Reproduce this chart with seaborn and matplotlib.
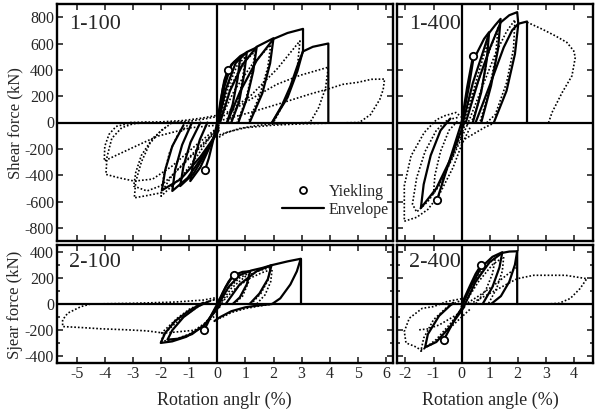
import pandas as pd
import seaborn as sns
import matplotlib
matplotlib.use("Agg")
from matplotlib import pyplot as plt
from matplotlib.lines import Line2D

# ---------------- data (rotation %, shear kN) ----------------
# specimen 1-100
a_solid = [
    [(0, 0), (0.12, 170), (0.25, 320), (0.38, 400)],
    [(0.02, 0), (0.2, 260), (0.38, 400), (0.6, 460), (0.82, 494), (0.72, 330), (0.55, 140), (0.35, 0)],
    [(0.03, 0), (0.25, 270), (0.5, 440), (0.82, 505), (1.05, 532), (0.95, 360), (0.78, 160), (0.5, 0)],
    [(0.05, 0), (0.3, 250), (0.65, 450), (1.05, 535), (1.4, 570), (1.28, 390), (1.05, 180), (0.75, 0)],
    [(0.1, 0), (0.45, 240), (0.9, 440), (1.4, 575), (2.0, 640), (1.88, 450), (1.6, 220), (1.15, 0)],
    [(0.35, 0), (0.8, 230), (1.4, 470), (2.0, 635), (2.5, 680), (3.05, 711), (3.05, 545), (2.85, 390), (2.5, 190), (1.95, 0)],
    [(1.95, 0), (2.3, 130), (2.6, 275), (2.85, 430), (3.05, 540), (3.4, 575), (3.95, 600), (3.95, 0)],
    [(0, 0), (-0.15, -140), (-0.3, -270), (-0.43, -358)],
    [(0.05, -20), (-0.3, -200), (-0.6, -340), (-0.96, -445), (-0.85, -300), (-0.62, -130), (-0.35, 0)],
    [(0.05, -40), (-0.4, -230), (-0.85, -390), (-1.32, -483), (-1.2, -330), (-0.95, -150), (-0.6, 0)],
    [(0.05, -60), (-0.5, -250), (-1.05, -420), (-1.6, -520), (-1.5, -360), (-1.25, -170), (-0.9, 0)],
    [(0.0, -80), (-0.6, -260), (-1.3, -430), (-1.97, -515), (-1.85, -360), (-1.6, -180), (-1.2, -20)],
]
a_dotted = [
    [(0.05, 0), (0.35, 250), (0.7, 430), (1.0, 500), (0.9, 330), (0.72, 140), (0.45, 0)],
    [(0.08, 0), (0.45, 260), (0.9, 450), (1.35, 540), (1.22, 360), (1.0, 160), (0.7, 0)],
    [(0.1, 20), (0.6, 240), (1.2, 430), (1.9, 590), (1.8, 420), (1.5, 200), (1.1, 0)],
    [(0.34, 76), (1.17, 200), (2.12, 405), (2.94, 620), (2.85, 420), (2.5, 200), (2.0, 0)],
    [(0.22, 50), (1.17, 175), (2.12, 290), (2.94, 358), (3.95, 420), (3.85, 260), (3.6, 110), (3.3, 0)],
    [(0.2, 20), (1.17, 76), (2.35, 152), (3.3, 216), (3.95, 255), (4.47, 290), (5.0, 305), (5.48, 328),
     (5.95, 330), (5.9, 250), (5.78, 175), (5.45, 60), (5.05, 0)],
    [(3.3, 0), (2.5, -5), (1.5, -20), (0.8, -45), (0.3, -80), (0.0, -120)],
    [(5.05, 0), (4.0, -5), (3.0, -10), (2.0, -20), (1.0, -40), (0.4, -70), (0.0, -100)],
    [(0.0, -50), (-0.8, -220), (-1.6, -400), (-2.0, -534), (-2.5, -555), (-2.95, -572), (-2.9, -450),
     (-2.7, -300), (-2.4, -160), (-2.0, -60), (-1.65, -10)],
    [(0.0, -40), (-0.8, -180), (-1.6, -330), (-2.3, -430), (-2.95, -445), (-3.5, -420), (-3.96, -394),
     (-3.92, -260), (-3.75, -120), (-3.4, -40), (-3.0, -10), (-2.5, 0)],
    [(0.0, -20), (-0.95, -40), (-2.13, -104), (-3.0, -190), (-4.02, -292), (-4.0, -180), (-3.85, -90),
     (-3.6, -30), (-3.1, -5), (-2.5, 0)],
    [(0.0, -60), (-0.8, -230), (-1.5, -380), (-2.0, -480), (-2.5, -520), (-2.97, -483), (-2.9, -380),
     (-2.7, -250), (-2.3, -120), (-1.8, -30)],
    [(-0.1, -60), (-0.7, -250), (-1.3, -420), (-2.0, -560), (-1.9, -400), (-1.7, -230), (-1.4, -90), (-1.0, -10)],
    [(-3.1, 0), (-2.0, 5), (-1.2, 15), (-0.5, 35), (0.0, 55)],
    [(-1.7, 0), (-1.0, 10), (-0.5, 25), (0.0, 45)],
]
a_yield = [(0.38, 400), (-0.43, -358)]

# specimen 1-400
b_solid = [
    [(0, 0), (0.2, 270), (0.41, 508)],
    [(0.0, -10), (0.25, 260), (0.41, 470), (0.8, 635), (0.98, 686), (0.9, 480), (0.7, 230), (0.4, 0)],
    [(0.05, 0), (0.4, 300), (0.8, 560), (0.98, 680), (1.2, 740), (1.39, 787), (1.3, 560), (1.05, 280), (0.7, 0)],
    [(0.15, 0), (0.6, 320), (1.0, 560), (1.39, 760), (1.7, 815), (1.98, 838), (2.02, 750), (1.9, 520),
     (1.6, 240), (1.15, 0)],
    [(0.5, 0), (1.0, 280), (1.5, 570), (1.8, 700), (2.02, 750), (2.33, 767), (2.33, 0)],
    [(0, 0), (-0.4, -270), (-0.87, -585)],
    [(0.1, 0), (-0.4, -280), (-0.9, -500), (-1.45, -650), (-1.35, -470), (-1.1, -250), (-0.75, -60), (-0.4, 30)],
]
b_dotted = [
    [(0.05, 0), (0.4, 230), (0.75, 480), (0.95, 620), (0.85, 400), (0.6, 150), (0.35, 0)],
    [(0.1, 0), (0.5, 260), (0.95, 520), (1.3, 720), (1.2, 480), (0.95, 220), (0.65, 0)],
    [(0.2, -20), (0.7, 250), (1.2, 520), (1.6, 690), (1.9, 780), (1.85, 560), (1.6, 300), (1.2, 60), (0.9, 0)],
    [(2.33, 762), (2.87, 709), (3.34, 658), (3.75, 608), (3.99, 545), (4.05, 495), (3.93, 354), (3.58, 227),
     (3.22, 76), (3.1, 0)],
    [(1.2, 0), (0.8, -40), (0.4, -90), (0.0, -140)],
    [(0.3, -40), (0.0, -170), (-0.3, -340), (-0.8, -550), (-1.2, -660), (-1.6, -720), (-2.04, -750),
     (-2.04, -480), (-1.8, -254), (-1.33, -76), (-0.9, 20), (-0.62, 50), (-0.2, 76), (0.0, 40)],
    [(0.2, -20), (-0.3, -260), (-0.8, -480), (-1.2, -600), (-1.6, -680), (-1.75, -620), (-1.6, -420),
     (-1.3, -220), (-0.9, -60), (-0.5, 20), (-0.1, 40)],
    [(0.1, -30), (-0.3, -250), (-0.7, -430), (-1.0, -540), (-0.95, -400), (-0.75, -220), (-0.45, -60), (-0.1, 20)],
]
b_yield = [(0.41, 508), (-0.87, -585)]

# specimen 2-100
c_solid = [
    [(0, 0), (0.2, 90), (0.4, 170), (0.58, 223)],
    [(0.02, 0), (0.3, 130), (0.58, 220), (0.9, 245), (1.17, 250), (1.05, 150), (0.8, 50), (0.55, 0)],
    [(0.05, 0), (0.4, 130), (0.8, 220), (1.2, 255), (1.6, 275), (1.93, 296), (1.8, 190), (1.5, 80), (1.15, 0)],
    [(0.3, 0), (0.8, 150), (1.4, 250), (1.93, 296), (2.5, 325), (2.97, 345), (2.83, 249), (2.6, 149),
     (2.24, 43), (1.95, 0)],
    [(2.97, 345), (2.97, 0)],
    [(1.95, 0), (1.5, -10), (1.0, -25), (0.5, -55), (0.1, -100), (-0.1, -130)],
    [(0, 0), (-0.2, -80), (-0.35, -150), (-0.47, -199)],
    [(0.05, 0), (-0.4, -150), (-0.9, -230), (-1.4, -265), (-1.77, -272), (-1.6, -200), (-1.2, -100),
     (-0.7, -20), (-0.3, 20)],
    [(0.1, -10), (-0.5, -170), (-1.1, -250), (-1.6, -285), (-2.01, -297), (-1.85, -220), (-1.5, -130),
     (-1.0, -50), (-0.5, 10)],
]
c_dotted = [
    [(0.05, 0), (0.4, 120), (0.8, 200), (1.17, 240), (1.1, 160), (0.9, 60), (0.6, 0)],
    [(0.1, 0), (0.5, 120), (1.0, 210), (1.5, 255), (1.9, 280), (1.8, 180), (1.55, 80), (1.2, 0)],
    [(0.15, 10), (0.6, 110), (1.1, 190), (1.6, 240), (1.95, 265), (1.9, 170), (1.7, 70), (1.4, 0)],
    [(2.0, 0), (1.5, -15), (1.0, -35), (0.5, -65), (0.1, -110)],
    [(0.1, -20), (-0.5, -160), (-1.0, -230), (-1.5, -270), (-2.0, -285), (-1.9, -230), (-1.5, -150),
     (-1.1, -80), (-0.6, -10), (-0.2, 30), (0.1, 40)],
    [(0.0, -80), (-0.8, -200), (-1.89, -222), (-2.5, -205), (-3.19, -197), (-4.14, -189), (-4.8, -180),
     (-5.5, -172), (-5.5, -121), (-5.32, -70), (-4.85, -20), (-4.5, 0), (-3.0, 5), (-1.5, 15), (-0.5, 30), (0.0, 50)],
    [(-2.0, -225), (-1.42, -108), (-0.95, -33), (-0.47, 5), (0.0, 40)],
]
c_yield = [(0.58, 223), (-0.47, -199)]

# specimen 2-400
d_solid = [
    [(0, 0), (0.3, 140), (0.5, 230), (0.7, 299)],
    [(0.0, -20), (0.3, 120), (0.7, 280), (1.1, 360), (1.45, 395), (1.35, 280), (1.1, 130), (0.75, 0)],
    [(0.1, -10), (0.5, 170), (1.0, 320), (1.45, 390), (1.7, 400), (1.98, 402), (1.98, 0)],
    [(1.98, 402), (1.9, 300), (1.7, 170), (1.4, 60), (1.05, 0)],
    [(0.1, 0), (-0.2, -100), (-0.45, -200), (-0.63, -272)],
    [(0.1, -20), (-0.4, -170), (-0.9, -290), (-1.3, -330), (-1.2, -230), (-0.8, -90), (-0.3, 10)],
]
d_dotted = [
    [(0.0, 0), (0.4, 150), (0.8, 280), (1.2, 350), (1.1, 230), (0.85, 100), (0.5, 0)],
    [(0.1, 0), (0.6, 170), (1.1, 300), (1.5, 360), (1.45, 250), (1.25, 120), (0.95, 0)],
    [(0.0, -20), (0.6, 60), (1.15, 143), (1.6, 220), (1.98, 281)],
    [(0.3, 0), (1.0, 80), (1.6, 150), (1.98, 193), (2.57, 219), (3.16, 219), (3.7, 219), (4.46, 193),
     (4.22, 118), (3.87, 42), (3.46, 5), (3.0, 0)],
    [(0.0, 40), (-0.5, 20), (-1.0, -20), (-1.4, -33), (-1.86, -108), (-2.04, -209), (-1.98, -297),
     (-1.68, -322), (-1.45, -350), (-1.0, -300), (-0.5, -200), (0.0, -100), (0.3, -40)],
    [(-1.51, -197), (-1.2, -190), (-0.8, -160), (-0.4, -110), (0.0, -60)],
    [(0.1, -10), (-0.4, -150), (-0.9, -270), (-1.45, -360), (-1.35, -260), (-1.0, -120), (-0.5, -20), (0.0, 30)],
]
d_yield = [(0.7, 299), (-0.63, -272)]

panel_labels = ["1-100", "1-400", "2-100", "2-400"]
left_xticks = [-5, -4, -3, -2, -1, 0, 1, 2, 3, 4, 5, 6]
right_xticks = [-2, -1, 0, 1, 2, 3, 4]
top_yticks = [-800, -600, -400, -200, 0, 200, 400, 600, 800]
bottom_yticks = [-400, -200, 0, 200, 400]


def to_frame(solid, dotted):
    rows = []
    for kind, curves in (("solid", solid), ("dotted", dotted)):
        for i, curve in enumerate(curves):
            for x, y in curve:
                rows.append((f"{kind}{i}", kind, x, y))
    return pd.DataFrame(rows, columns=["curve", "kind", "x", "y"])


def draw_panel(ax, solid, dotted, yld, label, xlim, ylim, xticks, yticks, minor_y):
    ax.axhline(0, color="black", lw=1.6, zorder=1)
    ax.axvline(0, color="black", lw=1.6, zorder=1)
    df = to_frame(solid, dotted)
    sns.lineplot(data=df, x="x", y="y", units="curve", estimator=None, sort=False,
                 style="kind", size="kind", dashes={"solid": "", "dotted": (1, 1.2)},
                 sizes={"solid": 1.6, "dotted": 1.2}, color="black", legend=False, ax=ax)
    ydf = pd.DataFrame(yld, columns=["x", "y"])
    sns.scatterplot(data=ydf, x="x", y="y", marker="o", s=28, facecolor="white",
                    edgecolor="black", linewidth=1.3, zorder=5, ax=ax)
    ax.set_xlim(*xlim)
    ax.set_ylim(*ylim)
    ax.set_xticks(xticks)
    ax.set_yticks(yticks)
    ax.set_yticks(minor_y, minor=True)
    ax.set_xlabel("")
    ax.set_ylabel("")
    ax.tick_params(which="both", direction="in", top=True, right=True, width=1.2, labelsize=11.5, pad=2)
    ax.tick_params(which="major", length=4)
    ax.tick_params(which="minor", length=2.5)
    for s in ax.spines.values():
        s.set_linewidth(1.7)
        s.set_color("black")
    ax.text(0.035 if xlim[0] < -3 else 0.06, 0.955 if ylim[1] > 500 else 0.93, label,
            transform=ax.transAxes, ha="left", va="top", fontsize=16)


sns.set_style("ticks")
plt.rcParams["font.family"] = ["Liberation Serif", "DejaVu Serif"]
plt.rcParams["axes.unicode_minus"] = False

W, H = 596, 413
fig = plt.figure(figsize=(W / 100, H / 100), dpi=100)


def box(l, r, t, b):
    return [l / W, 1 - b / H, (r - l) / W, (b - t) / H]


ax_a = fig.add_axes(box(57, 393, 4, 241))
ax_b = fig.add_axes(box(397, 593, 4, 241))
ax_c = fig.add_axes(box(57, 393, 245, 363))
ax_d = fig.add_axes(box(397, 593, 245, 363))

draw_panel(ax_a, a_solid, a_dotted, a_yield, panel_labels[0], (-5.7, 6.25), (-900, 900),
           left_xticks, top_yticks, [])
draw_panel(ax_b, b_solid, b_dotted, b_yield, panel_labels[1], (-2.3, 4.68), (-900, 900),
           right_xticks, top_yticks, [])
draw_panel(ax_c, c_solid, c_dotted, c_yield, panel_labels[2], (-5.7, 6.25), (-450, 450),
           left_xticks, bottom_yticks, [-300, -100, 100, 300])
draw_panel(ax_d, d_solid, d_dotted, d_yield, panel_labels[3], (-2.3, 4.68), (-450, 450),
           right_xticks, bottom_yticks, [-300, -100, 100, 300])

for ax in (ax_a, ax_b):
    ax.tick_params(labelbottom=False)
for ax in (ax_b, ax_d):
    ax.tick_params(labelleft=False)

handles = [Line2D([], [], marker="o", ls="none", mfc="white", mec="black", mew=1.3, ms=5),
           Line2D([], [], color="black", lw=1.6)]
ax_a.legend(handles, ["Yiekling", "Envelope"], loc="lower right", bbox_to_anchor=(1.02, 0.05),
            frameon=False, fontsize=11.5, handlelength=2.6, handletextpad=0.3,
            labelspacing=0.15, borderpad=0.2)

fig.text(15 / W, 1 - 123 / H, "Shear force (kN)", rotation=90, ha="center", va="center", fontsize=12)
fig.text(15 / W, 1 - 305 / H, "Sjear force (kN)", rotation=90, ha="center", va="center", fontsize=12)
fig.text(224 / W, 1 - 400 / H, "Rotation anglr (%)", ha="center", va="center", fontsize=13)
fig.text(490 / W, 1 - 400 / H, "Rotation angle (%)", ha="center", va="center", fontsize=13)

fig.savefig("out.png", dpi=100)
